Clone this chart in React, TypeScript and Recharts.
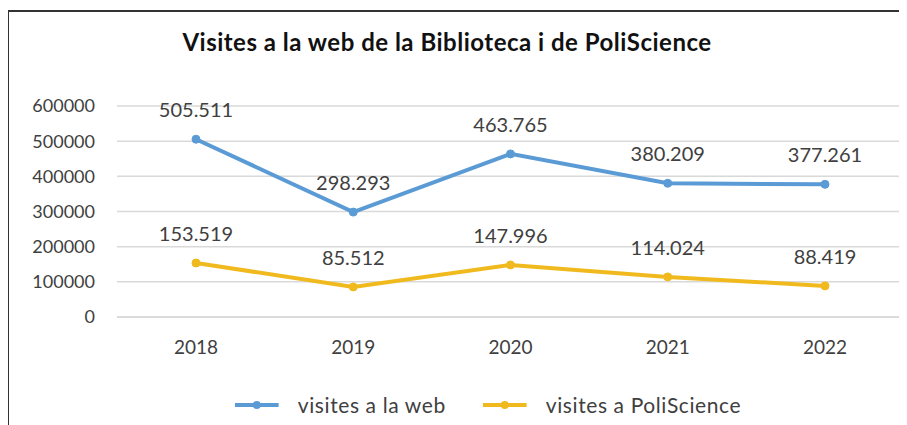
import React from 'react';
import { LineChart, Line, XAxis, YAxis, CartesianGrid, LabelList } from 'recharts';

// values
const years = ['2018', '2019', '2020', '2021', '2022'];
const webVisits = [505511, 298293, 463765, 380209, 377261];
const poliVisits = [153519, 85512, 147996, 114024, 88419];
const yTicks = [0, 100000, 200000, 300000, 400000, 500000, 600000];

const seriesNames = { web: 'visites a la web', poli: 'visites a PoliScience' };
const colors = { web: '#5B9BD5', poli: '#F0BA1E' };

const data = years.map((year, i) => ({ year, web: webVisits[i], poli: poliVisits[i] }));

// 505511 -> "505.511"
const formatThousands = (v: number | string) =>
  String(v).replace(/\B(?=(\d{3})+(?!\d))/g, '.');

const FONT = 'Lato, "Open Sans", sans-serif';
const TEXT = '#404040';

function LegendItem({ color, label }: { color: string; label: string }) {
  return (
    <div style={{ display: 'flex', alignItems: 'center' }}>
      <svg width={44} height={10} style={{ marginRight: 19 }}>
        <line x1={0} y1={5} x2={44} y2={5} stroke={color} strokeWidth={4} />
        <circle cx={22} cy={5} r={4} fill={color} />
      </svg>
      <span>{label}</span>
    </div>
  );
}

export default function App() {
  return (
    <div
      style={{
        position: 'relative',
        marginTop: 2,
        marginLeft: -1,
        width: 900,
        height: 415,
        borderLeft: '2px solid #333',
        borderTop: '2px solid #333',
        background: '#fff',
        fontFamily: FONT,
      }}
    >
      <div
        style={{
          position: 'absolute',
          top: 18,
          left: 438,
          transform: 'translateX(-50%)',
          whiteSpace: 'nowrap',
          fontWeight: 700,
          fontSize: 24,
          letterSpacing: 0.5,
          lineHeight: '24px',
          color: '#111',
        }}
      >
        Visites a la web de la Biblioteca i de PoliScience
      </div>

      <LineChart
        width={898}
        height={413}
        data={data}
        margin={{ top: 94, right: 3, left: 0, bottom: 68 }}
      >
        <CartesianGrid vertical={false} stroke="#d9d9d9" strokeWidth={1.5} />
        <XAxis
          dataKey="year"
          height={40}
          padding={{ left: 79, right: 79 }}
          axisLine={{ stroke: '#d9d9d9', strokeWidth: 1.5 }}
          tickLine={false}
          tickSize={0}
          tickMargin={24}
          tick={{ fill: TEXT, fontSize: 19, fontFamily: FONT }}
        />
        <YAxis
          width={108}
          domain={[0, 600000]}
          ticks={yTicks}
          axisLine={false}
          tickLine={false}
          tickSize={0}
          tickMargin={22}
          tick={{ fill: TEXT, fontSize: 18, fontFamily: FONT }}
        />
        <Line
          dataKey="web"
          name={seriesNames.web}
          stroke={colors.web}
          strokeWidth={4}
          dot={{ r: 4, fill: colors.web, stroke: colors.web, strokeWidth: 1 }}
          isAnimationActive={false}
        >
          <LabelList
            dataKey="web"
            position="top"
            offset={22}
            formatter={formatThousands}
            style={{ fill: TEXT, fontSize: 20, fontFamily: FONT }}
          />
        </Line>
        <Line
          dataKey="poli"
          name={seriesNames.poli}
          stroke={colors.poli}
          strokeWidth={4}
          dot={{ r: 4, fill: colors.poli, stroke: colors.poli, strokeWidth: 1 }}
          isAnimationActive={false}
        >
          <LabelList
            dataKey="poli"
            position="top"
            offset={22}
            formatter={formatThousands}
            style={{ fill: TEXT, fontSize: 20, fontFamily: FONT }}
          />
        </Line>
      </LineChart>

      <div
        style={{
          position: 'absolute',
          top: 382,
          left: 479,
          transform: 'translateX(-50%)',
          display: 'flex',
          gap: 37,
          whiteSpace: 'nowrap',
          fontSize: 21,
          letterSpacing: 0.6,
          lineHeight: '22px',
          color: TEXT,
        }}
      >
        <LegendItem color={colors.web} label={seriesNames.web} />
        <LegendItem color={colors.poli} label={seriesNames.poli} />
      </div>
    </div>
  );
}
